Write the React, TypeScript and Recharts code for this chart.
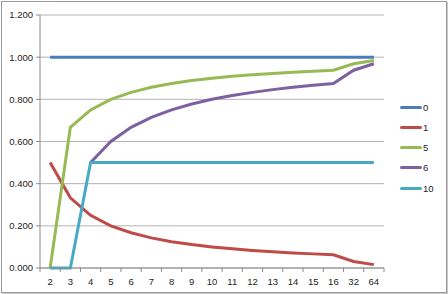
import React from "react";
import { LineChart, Line, XAxis, YAxis, CartesianGrid } from "recharts";

const categories = ["2", "3", "4", "5", "6", "7", "8", "9", "10", "11", "12", "13", "14", "15", "16", "32", "64"];
const s0 = [1, 1, 1, 1, 1, 1, 1, 1, 1, 1, 1, 1, 1, 1, 1, 1, 1];
const s1 = [0.5, 0.333, 0.25, 0.2, 0.167, 0.143, 0.125, 0.111, 0.1, 0.091, 0.083, 0.077, 0.071, 0.067, 0.063, 0.031, 0.016];
const s5 = [0, 0.667, 0.75, 0.8, 0.833, 0.857, 0.875, 0.889, 0.9, 0.909, 0.917, 0.923, 0.929, 0.933, 0.938, 0.969, 0.984];
const s6 = [null, null, 0.5, 0.6, 0.667, 0.714, 0.75, 0.778, 0.8, 0.818, 0.833, 0.846, 0.857, 0.867, 0.875, 0.938, 0.969];
const s10 = [0, 0, 0.5, 0.5, 0.5, 0.5, 0.5, 0.5, 0.5, 0.5, 0.5, 0.5, 0.5, 0.5, 0.5, 0.5, 0.5];
const yTicks = [0, 0.2, 0.4, 0.6, 0.8, 1.0, 1.2];

const seriesNames = ["0", "1", "5", "6", "10"];
const seriesColors = ["#4a7ebb", "#be4b48", "#98b954", "#7d60a0", "#46aac5"];

const data = categories.map((c, i) => ({
  cat: c,
  s0: s0[i],
  s1: s1[i],
  s5: s5[i],
  s6: s6[i],
  s10: s10[i],
}));

const keys = ["s0", "s1", "s5", "s6", "s10"];

const W = 448;
const H = 294;
const M = { top: 15, right: 64, bottom: 0, left: 0 };
const XH = 26;
const YW = 40;
const plotW = W - M.right - YW;
const bw = plotW / categories.length;
const FONT = "'Liberation Sans', Arial, sans-serif";

const XTick = (props: any) => {
  const { x, y, payload, index } = props;
  const isLast = index === categories.length - 1;
  return (
    <g>
      <line x1={x - bw / 2} x2={x - bw / 2} y1={y} y2={y + 4} stroke="#8c8c8c" />
      {isLast && <line x1={x + bw / 2} x2={x + bw / 2} y1={y} y2={y + 4} stroke="#8c8c8c" />}
      <text x={x} y={y + 17} textAnchor="middle" fontSize={9.5} fill="#222" fontFamily={FONT}>
        {payload.value}
      </text>
    </g>
  );
};

export default function App() {
  return (
    <div style={{ position: "absolute", left: 0, top: 0, width: W, height: H, background: "#fff" }}>
      <div
        style={{
          position: "absolute",
          left: 1,
          top: 1,
          width: W - 4,
          height: H - 4,
          border: "1px solid #9a9a9a",
          boxShadow: "1px 1px 1px #c8c8c8",
        }}
      />
      <div style={{ position: "absolute", left: 0, top: 0 }}>
        <LineChart width={W} height={H} data={data} margin={M}>
          <CartesianGrid horizontal={true} vertical={false} stroke="#b4b4b4" strokeWidth={1} />
          <XAxis
            dataKey="cat"
            height={XH}
            tickLine={false}
            tickSize={0}
            tickMargin={0}
            interval={0}
            padding={{ left: bw / 2, right: bw / 2 }}
            axisLine={{ stroke: "#8c8c8c" }}
            tick={<XTick />}
          />
          <YAxis
            width={YW}
            domain={[0, 1.2]}
            ticks={yTicks}
            interval={0}
            tickSize={4}
            tickMargin={3}
            tickLine={{ stroke: "#8c8c8c" }}
            axisLine={{ stroke: "#8c8c8c" }}
            tickFormatter={(v: number) => v.toFixed(3)}
            tick={{ fontSize: 9.5, fill: "#222", fontFamily: FONT }}
          />
          {keys.map((k, i) => (
            <Line
              key={k}
              dataKey={k}
              type="linear"
              stroke={seriesColors[i]}
              strokeWidth={3}
              dot={false}
              activeDot={false}
              isAnimationActive={false}
            />
          ))}
        </LineChart>
      </div>
      {seriesNames.map((n, i) => (
        <div
          key={n}
          style={{
            position: "absolute",
            left: 400,
            top: 101 + i * 20.3,
            display: "flex",
            alignItems: "center",
            fontFamily: FONT,
            fontSize: 9.5,
            color: "#222",
            height: 12,
          }}
        >
          <div style={{ width: 22, height: 3, background: seriesColors[i], borderRadius: 1.5, marginRight: 1 }} />
          <span>{n}</span>
        </div>
      ))}
    </div>
  );
}
